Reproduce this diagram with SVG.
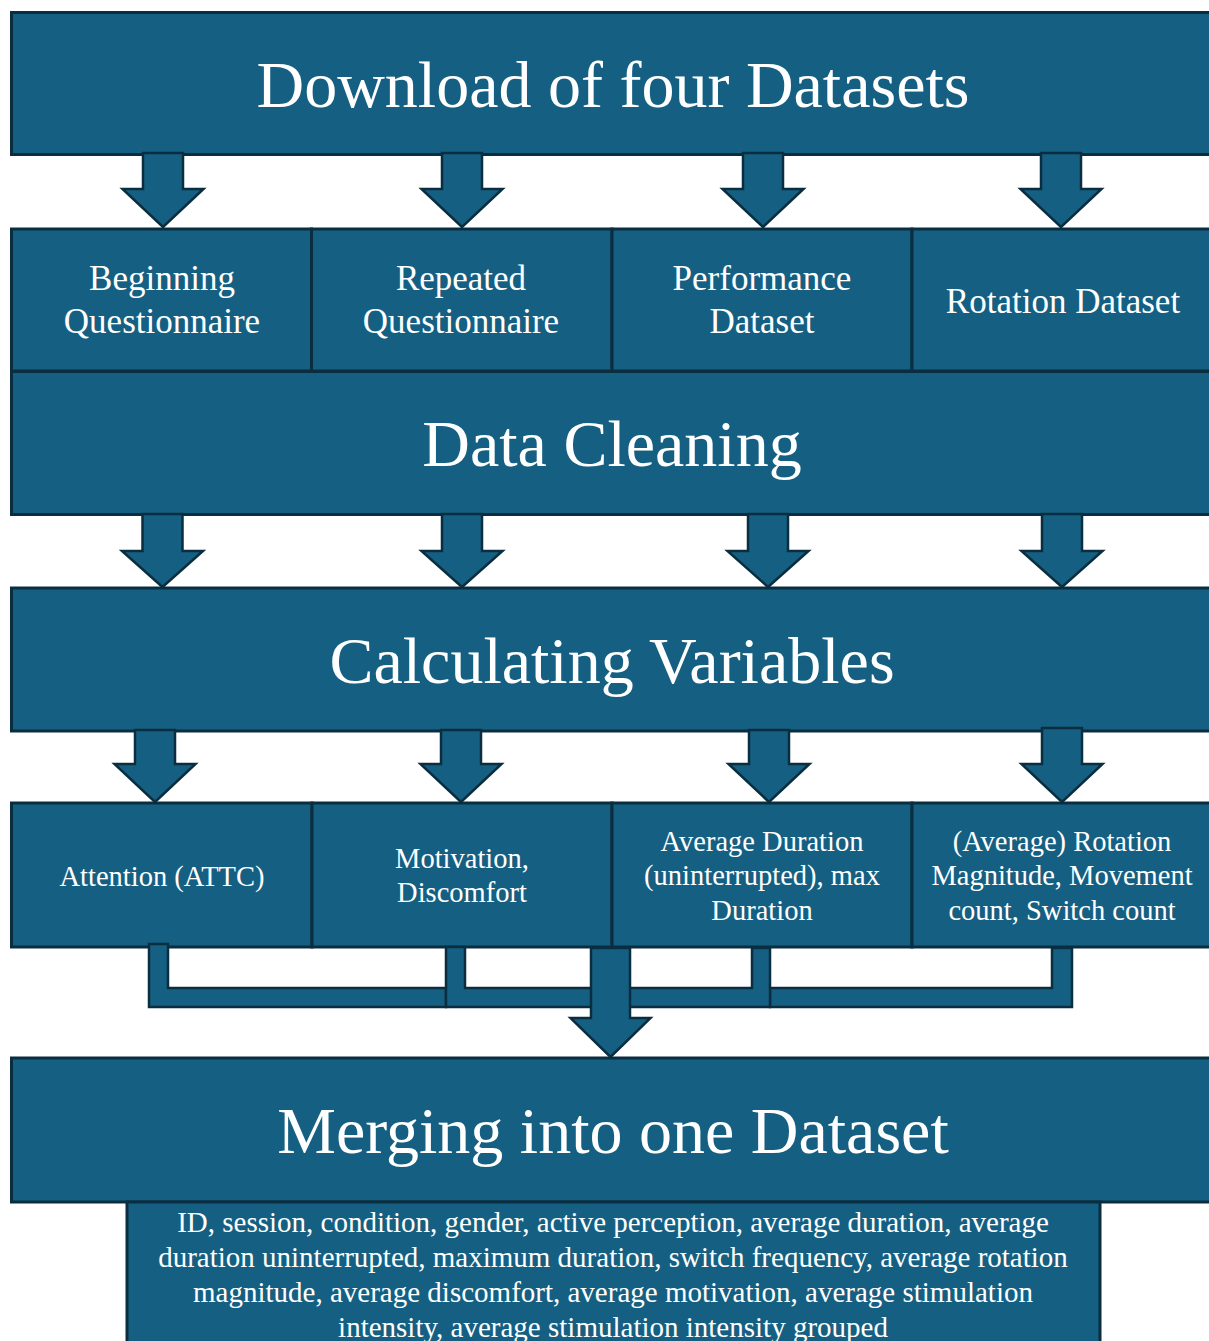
<svg xmlns="http://www.w3.org/2000/svg" width="1209" height="1341" viewBox="0 0 1209 1341" font-family="Liberation Serif, Tinos, Times New Roman, DejaVu Serif, serif">
  <style>
    .box { fill: #156082; stroke: #0A2E40; stroke-width: 3; }
    .arrow { fill: #156082; stroke: #0A2E40; stroke-width: 2.5; stroke-linejoin: miter; }
    text { fill: #FFFFFF; text-anchor: middle; }
    .title { font-size: 66px; }
    .src { font-size: 35px; }
    .var { font-size: 28.5px; }
    .list { font-size: 29px; }
  </style>
  <rect width="1209" height="1341" fill="#FFFFFF"/>

  <!-- Stage 1: download -->
  <g id="download">
    <rect class="box" x="11.5" y="12.5" width="1220" height="142"/>
    <text class="title" x="613" y="107">Download of four Datasets</text>
  </g>

  <!-- Source datasets -->
  <g id="beginning-questionnaire">
    <rect class="box" x="11.5" y="229" width="300" height="142"/>
    <text class="src" x="162" y="290">Beginning</text>
    <text class="src" x="162" y="333">Questionnaire</text>
  </g>
  <g id="repeated-questionnaire">
    <rect class="box" x="311.5" y="229" width="300.5" height="142"/>
    <text class="src" x="461" y="290">Repeated</text>
    <text class="src" x="461" y="333">Questionnaire</text>
  </g>
  <g id="performance-dataset">
    <rect class="box" x="612" y="229" width="300" height="142"/>
    <text class="src" x="762" y="290">Performance</text>
    <text class="src" x="762" y="333">Dataset</text>
  </g>
  <g id="rotation-dataset">
    <rect class="box" x="912" y="229" width="320" height="142"/>
    <text class="src" x="1063" y="313">Rotation Dataset</text>
  </g>

  <!-- Stage 2: cleaning -->
  <g id="data-cleaning">
    <rect class="box" x="11.5" y="371.5" width="1220" height="143"/>
    <text class="title" x="612" y="466">Data Cleaning</text>
  </g>

  <!-- Stage 3: variables -->
  <g id="calculating-variables">
    <rect class="box" x="11.5" y="588" width="1220" height="143"/>
    <text class="title" x="612" y="683">Calculating Variables</text>
  </g>

  <!-- Derived variables -->
  <g id="attention">
    <rect class="box" x="11.5" y="803" width="300.5" height="144"/>
    <text class="var" x="162" y="886">Attention (ATTC)</text>
  </g>
  <g id="motivation-discomfort">
    <rect class="box" x="312" y="803" width="300" height="144"/>
    <text class="var" x="462" y="868">Motivation,</text>
    <text class="var" x="462" y="902">Discomfort</text>
  </g>
  <g id="duration">
    <rect class="box" x="612" y="803" width="300" height="144"/>
    <text class="var" x="762" y="851">Average Duration</text>
    <text class="var" x="762" y="885">(uninterrupted), max</text>
    <text class="var" x="762" y="920">Duration</text>
  </g>
  <g id="rotation">
    <rect class="box" x="912" y="803" width="320" height="144"/>
    <text class="var" x="1062" y="851">(Average) Rotation</text>
    <text class="var" x="1062" y="885">Magnitude, Movement</text>
    <text class="var" x="1062" y="920">count, Switch count</text>
  </g>

  <!-- Stage 4: merge -->
  <g id="merging">
    <rect class="box" x="11.5" y="1058" width="1220" height="144"/>
    <text class="title" x="613" y="1153">Merging into one Dataset</text>
  </g>
  <g id="merged-variables">
    <rect class="box" x="127" y="1202" width="973" height="150"/>
    <text class="list" x="613" y="1232">ID, session, condition, gender, active perception, average duration, average</text>
    <text class="list" x="613" y="1267">duration uninterrupted, maximum duration, switch frequency, average rotation</text>
    <text class="list" x="613" y="1302">magnitude, average discomfort, average motivation, average stimulation</text>
    <text class="list" x="613" y="1337">intensity, average stimulation intensity grouped</text>
  </g>

  <!-- Connectors: block arrows and merge brackets -->
  <g id="connectors">
    <!-- download -> sources -->
    <polygon class="arrow" points="143,153 183,153 183,189 203.5,189 163,227 122.5,189 143,189"/>
    <polygon class="arrow" points="442,153 482,153 482,189 502.5,189 462,227 421.5,189 442,189"/>
    <polygon class="arrow" points="743,153 783,153 783,189 803.5,189 763,227 722.5,189 743,189"/>
    <polygon class="arrow" points="1041,153 1081,153 1081,189 1101.5,189 1061,227 1020.5,189 1041,189"/>
    <!-- cleaning -> variables -->
    <polygon class="arrow" points="142.5,514 182.5,514 182.5,551 203,551 162.5,587 122,551 142.5,551"/>
    <polygon class="arrow" points="442,514 482,514 482,551 502.5,551 462,587 421.5,551 442,551"/>
    <polygon class="arrow" points="748,514 788,514 788,551 808.5,551 768,587 727.5,551 748,551"/>
    <polygon class="arrow" points="1042,514 1082,514 1082,551 1102.5,551 1062,587 1021.5,551 1042,551"/>
    <!-- variables -> derived -->
    <polygon class="arrow" points="135,730 175,730 175,764 195.5,764 155,802 114.5,764 135,764"/>
    <polygon class="arrow" points="441,730 481,730 481,764 501.5,764 461,802 420.5,764 441,764"/>
    <polygon class="arrow" points="749,730 789,730 789,764 809.5,764 769,802 728.5,764 749,764"/>
    <polygon class="arrow" points="1042,728 1082,728 1082,764 1102.5,764 1062,802 1021.5,764 1042,764"/>
    <!-- merge brackets -->
    <polygon class="arrow" points="149,944 168,944 168,988 446,988 446,1007 149,1007"/>
    <polygon class="arrow" points="446,947 465,947 465,988 592,988 592,1007 446,1007"/>
    <polygon class="arrow" points="770,988 1052,988 1052,948 1072,948 1072,1007 770,1007"/>
    <polygon class="arrow" points="629,988 752,988 752,948 770,948 770,1007 629,1007"/>
    <!-- merge arrow -->
    <polygon class="arrow" points="591,948 630,948 630,1018 650.5,1018 610.5,1057 570.5,1018 591,1018"/>
  </g>
</svg>
